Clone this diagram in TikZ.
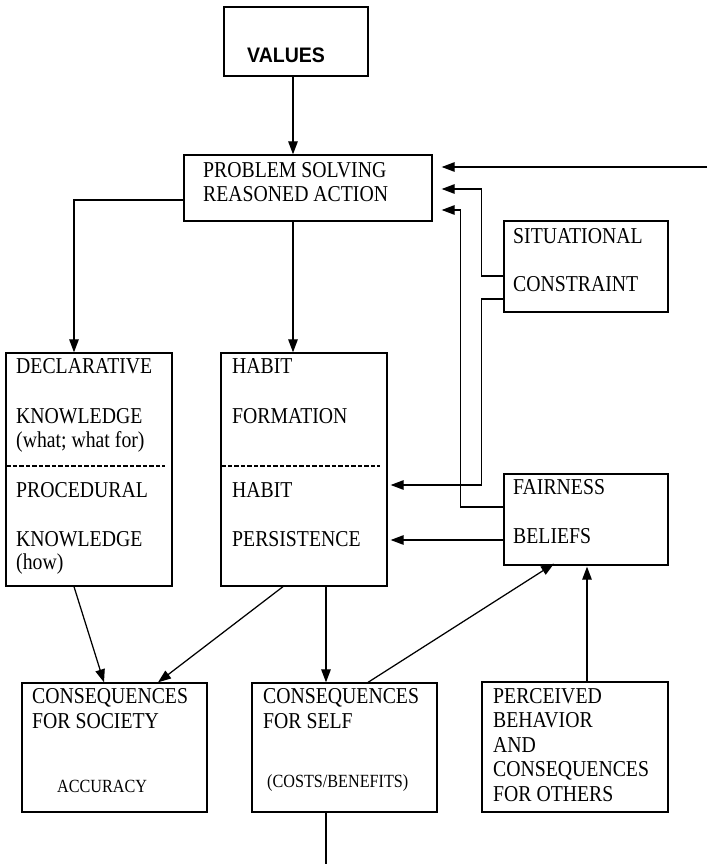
\documentclass[tikz,border=0pt]{standalone}
\usepackage{fontspec}
\setmainfont{Liberation Serif}[FakeStretch=0.87]
\newfontfamily\valfont{Liberation Sans}[FakeStretch=0.93]
\usetikzlibrary{arrows.meta,calc}
\begin{document}
\begin{tikzpicture}[x=1pt,y=-1pt,
  box/.style={draw, line width=1.3pt, inner sep=0pt},
  conn/.style={line width=1.25pt},
  arr/.style={conn, -{Triangle[length=13pt,width=9.5pt]}},
  lbl/.style={anchor=base west, inner sep=0pt, font=\fontsize{22.7}{24}\selectfont},
  smalllbl/.style={anchor=base west, inner sep=0pt, font=\fontsize{18.6}{20}\selectfont},
  divider/.style={line width=1.3pt, dash pattern=on 4.5pt off 2pt}]
\useasboundingbox (0,0) rectangle (707,864);

% boxes
\node[box, minimum width=144pt, minimum height=69pt] (values) at (296,41.5) {};
\node[box, minimum width=248pt, minimum height=66pt] (ps) at (308,188) {};
\node[box, minimum width=164pt, minimum height=91pt] (sit) at (586,266.5) {};
\node[box, minimum width=164pt, minimum height=91pt] (fair) at (586,519.5) {};
\node[box, minimum width=166pt, minimum height=233pt] (decl) at (89,469.5) {};
\node[box, minimum width=166pt, minimum height=233pt] (habit) at (304,469.5) {};
\node[box, minimum width=185pt, minimum height=129pt] (soc) at (114.5,747.5) {};
\node[box, minimum width=185pt, minimum height=129pt] (self) at (344.5,747.5) {};
\node[box, minimum width=186pt, minimum height=130pt] (perc) at (575,747) {};

% dashed dividers
\draw[divider] ($(decl.west)+(1,-3.5)$) -- ($(decl.east)+(-8,-3.5)$);
\draw[divider] ($(habit.west)+(1,-3.5)$) -- ($(habit.east)+(-8,-3.5)$);

% texts
\node[lbl, font=\valfont\bfseries\fontsize{21}{22}\selectfont] (tval) at (247,63) {VALUES};
\node[lbl] (tps1) at (203,177) {PROBLEM SOLVING};
\node[lbl] (tps2) at (203,201) {REASONED ACTION};
\node[lbl] (tsit1) at (513,243) {SITUATIONAL};
\node[lbl] (tsit2) at (513,291) {CONSTRAINT};
\node[lbl] (tfair1) at (513,494) {FAIRNESS};
\node[lbl] (tfair2) at (513,543) {BELIEFS};
\node[lbl] (td1) at (16,373) {DECLARATIVE};
\node[lbl] (td2) at (16,423) {KNOWLEDGE};
\node[lbl] (td3) at (16,447) {(what; what for)};
\node[lbl] (td4) at (16,497) {PROCEDURAL};
\node[lbl] (td5) at (16,546) {KNOWLEDGE};
\node[lbl] (td6) at (16,569) {(how)};
\node[lbl] (th1) at (232,373) {HABIT};
\node[lbl] (th2) at (232,423) {FORMATION};
\node[lbl] (th3) at (232,497) {HABIT};
\node[lbl] (th4) at (232,546) {PERSISTENCE};
\node[lbl] (ts1) at (32,703) {CONSEQUENCES};
\node[lbl] (ts2) at (32,728) {FOR SOCIETY};
\node[smalllbl] (ts3) at (57,792) {ACCURACY};
\node[lbl] (tf1) at (263,703) {CONSEQUENCES};
\node[lbl] (tf2) at (263,728) {FOR SELF};
\node[smalllbl] (tf3) at (267,787) {(COSTS/BENEFITS)};
\node[lbl] (tp1) at (493,703) {PERCEIVED};
\node[lbl] (tp2) at (493,727) {BEHAVIOR};
\node[lbl] (tp3) at (493,752) {AND};
\node[lbl] (tp4) at (493,776) {CONSEQUENCES};
\node[lbl] (tp5) at (493,801) {FOR OTHERS};

% connectors
\coordinate (rightedge) at (707,167);
\coordinate (bottomedge) at (326,864);
\draw[arr] ([xshift=-3pt]values.south) -- ([xshift=-3pt]values.south |- ps.north);
\draw[arr] (rightedge) -- ($(ps.east |- rightedge)+(9,0)$);
\draw[arr] ($(sit.west)+(0,9.5)$) -- ++(-22,0) |- ($(ps.east)+(9,1)$);
\draw[arr] ($(fair.west)+(0,-12.5)$) -- ++(-43,0) |- ($(ps.east)+(9,22)$);
\draw[arr] ($(sit.west)+(0,32.5)$) -- ++(-22,0) |- ($(habit.east)+(3,15.5)$);
\draw[arr] ($(fair.west)+(0,20.5)$) -- ($(habit.east)+(3,70.5)$);
\draw[arr] ($(ps.west)+(0,12)$) -| ($(decl.north)+(-15,0)$);
\draw[arr] ($(ps.south)+(-15,0)$) -- ($(habit.north)+(-11,0)$);
\draw[arr] ($(decl.south)+(-15,0)$) -- ($(soc.north)+(-10.5,0)$);
\draw[arr] ($(habit.south)+(-21,0)$) -- ($(soc.north)+(43.5,0)$);
\draw[arr] ($(habit.south)+(22,0)$) -- ($(self.north)+(-18.5,0)$);
\draw[arr] ($(self.north)+(23.5,0)$) -- ($(fair.south)+(-32,-2)$);
\draw[arr] ($(perc.north)+(12,0)$) -- ($(fair.south)+(1,1)$);
\draw[conn] ($(self.south)+(-18.5,0)$) -- (bottomedge);
\end{tikzpicture}
\end{document}
